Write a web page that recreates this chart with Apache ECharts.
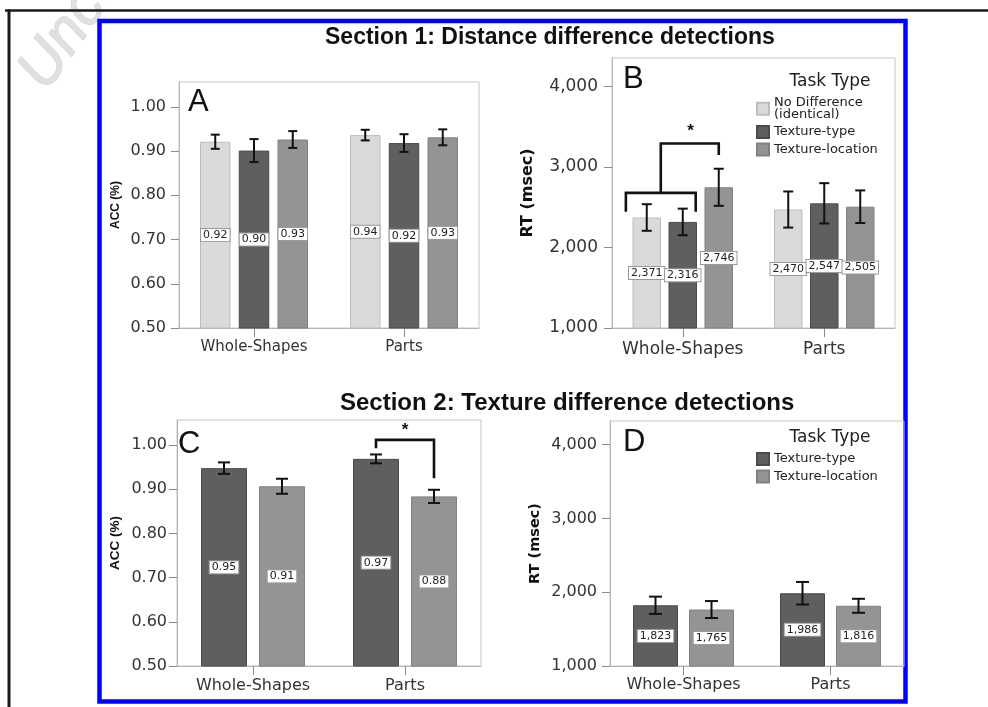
<!DOCTYPE html>
<html><head><meta charset="utf-8">
<script src="https://cdn.jsdelivr.net/npm/echarts@6/dist/echarts.min.js"></script>
<style>html,body{margin:0;padding:0;background:#fff}#c{width:988px;height:707px}</style>
</head><body><div id="c"></div>
<script>
// ---------- data ----------
const categories = ['Whole-Shapes', 'Parts'];
const nameNoDiff = 'No Difference\n(identical)';
const nameType = 'Texture-type';
const nameLoc = 'Texture-location';

// Panel A: ACC, distance difference detections
const accA_noDiff = [0.921, 0.936];
const accA_type   = [0.901, 0.918];
const accA_loc    = [0.926, 0.931];
const accA_noDiffErr = [0.016, 0.012];
const accA_typeErr   = [0.026, 0.020];
const accA_locErr    = [0.019, 0.018];

// Panel B: RT, distance difference detections
const rtB_noDiff = [2371, 2470];
const rtB_type   = [2316, 2547];
const rtB_loc    = [2746, 2505];
const rtB_noDiffErr = [165, 224];
const rtB_typeErr   = [165, 250];
const rtB_locErr    = [230, 202];

// Panel C: ACC, texture difference detections
const accC_type = [0.948, 0.969];
const accC_loc  = [0.907, 0.884];
const accC_typeErr = [0.013, 0.010];
const accC_locErr  = [0.017, 0.015];

// Panel D: RT, texture difference detections
const rtD_type = [1823, 1986];
const rtD_loc  = [1765, 1816];
const rtD_typeErr = [117, 153];
const rtD_locErr  = [115, 95];

const accTicks = [0.5, 0.6, 0.7, 0.8, 0.9, 1.0];
const rtTicks = [1000, 2000, 3000, 4000];

// significance brackets: [categoryIndex, barSlot, value]
const sigB = [
  [[0, -1.58, 2442], [0, -1.58, 2677], [0, 0.36, 2677], [0, 0.36, 2442]],
  [[0, -0.61, 2677], [0, -0.61, 3290], [0, 1, 3290], [0, 1, 3145]]
];
const sigBStar = [0, 0.22, 3446];
const sigC = [
  [[1, -0.5, 0.993], [1, -0.5, 1.012], [1, 0.5, 1.012], [1, 0.5, 0.925]]
];
const sigCStar = [1, 0, 1.034];

// ---------- styling ----------
const FONT = 'DejaVu Sans';
const COLORS = {
  [nameNoDiff]: ['#dadada', '#bdbdbd'],
  [nameType]: ['#5f5f5f', '#4b4b4b'],
  [nameLoc]: ['#949494', '#808080']
};
const fmtAcc = v => Number(v).toFixed(2);
const fmtRt = v => String(Math.round(v)).replace(/\B(?=(\d{3})+(?!\d))/g, ',');

const grids = [], xAxes = [], yAxes = [], series = [];

function makePanel(gi, cfg) {
  grids.push(Object.assign({show: true, borderColor: '#c6c6c6', borderWidth: 1, containLabel: false}, cfg.grid));
  xAxes.push({
    type: 'category', gridIndex: gi, data: categories,
    axisLine: {show: true, lineStyle: {color: '#b5b5b5'}},
    axisTick: {show: true, alignWithLabel: true, length: 9, lineStyle: {color: '#8a8a8a'}},
    axisLabel: {interval: 0, fontSize: cfg.catFont, color: '#333', margin: cfg.catMargin, fontFamily: FONT}
  });
  yAxes.push({
    type: 'value', gridIndex: gi, min: cfg.min, max: cfg.max, interval: cfg.ticks[1] - cfg.ticks[0],
    axisLine: {show: true, lineStyle: {color: '#b5b5b5'}},
    axisTick: {show: true, length: 8, lineStyle: {color: '#8a8a8a'}, customValues: cfg.ticks},
    axisLabel: {customValues: cfg.ticks, formatter: cfg.fmt, fontSize: cfg.tickFont, color: '#333', margin: cfg.tickMargin, fontFamily: FONT},
    splitLine: {show: false},
    name: cfg.yName, nameLocation: 'middle', nameGap: cfg.nameGap, nameRotate: 90,
    nameTextStyle: {fontWeight: 'bold', fontSize: cfg.nameFont, fontFamily: cfg.nameFamily, color: '#111'}
  });
  const n = cfg.bars.length;
  const step = cfg.bw + cfg.gap;
  cfg.bars.forEach((b, k) => {
    const c = COLORS[b.name];
    series.push({
      type: 'bar', name: b.name, xAxisIndex: gi, yAxisIndex: gi, data: b.values,
      barWidth: cfg.bw, barGap: (cfg.gap / cfg.bw * 100) + '%',
      itemStyle: {color: c[0], borderColor: c[1], borderWidth: 1},
      label: {show: true, position: 'inside', formatter: p => cfg.fmt(p.value),
        backgroundColor: '#fff', borderColor: '#9a9a9a', borderWidth: 1, padding: [1, 2, 0, 2],
        color: '#222', fontSize: 11, fontFamily: FONT},
      emphasis: {disabled: true}, z: 2
    });
    const slot = k - (n - 1) / 2;
    series.push({
      type: 'custom', xAxisIndex: gi, yAxisIndex: gi, silent: true, z: 5,
      encode: {x: 0, y: [1, 2]},
      data: b.values.map((v, i) => [i, v - b.err[i], v + b.err[i]]),
      renderItem(params, api) {
        const ci = api.value(0);
        const lo = api.coord([ci, api.value(1)]);
        const hi = api.coord([ci, api.value(2)]);
        const x = lo[0] + slot * step;
        const st = {stroke: '#111', lineWidth: 2};
        return {type: 'group', children: [
          {type: 'line', shape: {x1: x, y1: lo[1], x2: x, y2: hi[1]}, style: st},
          {type: 'line', shape: {x1: x - cfg.cap / 2, y1: lo[1], x2: x + cfg.cap / 2, y2: lo[1]}, style: st},
          {type: 'line', shape: {x1: x - cfg.cap / 2, y1: hi[1], x2: x + cfg.cap / 2, y2: hi[1]}, style: st}
        ]};
      }
    });
  });
  if (cfg.sig) {
    series.push({
      type: 'custom', xAxisIndex: gi, yAxisIndex: gi, silent: true, z: 6,
      data: [[0, cfg.min]],
      renderItem(params, api) {
        const toPt = p => { const c = api.coord([p[0], p[2]]); return [c[0] + p[1] * step, c[1]]; };
        const children = cfg.sig.map(line => ({
          type: 'polyline', shape: {points: line.map(toPt)},
          style: {stroke: '#111', lineWidth: 2.6, fill: null, lineJoin: 'miter'}
        }));
        const s = toPt(cfg.sigStar);
        children.push({type: 'text', x: s[0], y: s[1], style: {text: '*', font: 'bold 17px "Liberation Sans"', fill: '#111', align: 'center', verticalAlign: 'middle'}});
        return {type: 'group', children};
      }
    });
  }
}

makePanel(0, {
  grid: {left: 179, top: 82, width: 300, height: 246},
  min: 0.5, max: 1.056, ticks: accTicks, fmt: fmtAcc,
  tickFont: 16, tickMargin: 13, catFont: 15, catMargin: 12,
  yName: 'ACC (%)', nameGap: 57, nameFont: 12, nameFamily: 'Liberation Sans',
  bw: 30.5, gap: 8.25, cap: 9,
  bars: [
    {name: nameNoDiff, values: accA_noDiff, err: accA_noDiffErr},
    {name: nameType, values: accA_type, err: accA_typeErr},
    {name: nameLoc, values: accA_loc, err: accA_locErr}
  ]
});
makePanel(1, {
  grid: {left: 612, top: 58, width: 283, height: 270},
  min: 1000, max: 4350, ticks: rtTicks, fmt: fmtRt,
  tickFont: 17, tickMargin: 14, catFont: 17, catMargin: 13,
  yName: 'RT (msec)', nameGap: 76, nameFont: 16, nameFamily: FONT,
  bw: 28.5, gap: 7.5, cap: 10,
  bars: [
    {name: nameNoDiff, values: rtB_noDiff, err: rtB_noDiffErr},
    {name: nameType, values: rtB_type, err: rtB_typeErr},
    {name: nameLoc, values: rtB_loc, err: rtB_locErr}
  ],
  sig: sigB, sigStar: sigBStar
});
makePanel(2, {
  grid: {left: 177, top: 420, width: 304, height: 246},
  min: 0.5, max: 1.057, ticks: accTicks, fmt: fmtAcc,
  tickFont: 16, tickMargin: 10, catFont: 16, catMargin: 12,
  yName: 'ACC (%)', nameGap: 55, nameFont: 13.5, nameFamily: 'Liberation Sans',
  bw: 46, gap: 12, cap: 12,
  bars: [
    {name: nameType, values: accC_type, err: accC_typeErr},
    {name: nameLoc, values: accC_loc, err: accC_locErr}
  ],
  sig: sigC, sigStar: sigCStar
});
makePanel(3, {
  grid: {left: 610, top: 421, width: 294, height: 245},
  min: 1000, max: 4320, ticks: rtTicks, fmt: fmtRt,
  tickFont: 16, tickMargin: 13, catFont: 16, catMargin: 11,
  yName: 'RT (msec)', nameGap: 67, nameFont: 14.5, nameFamily: FONT,
  bw: 45, gap: 11, cap: 13,
  bars: [
    {name: nameType, values: rtD_type, err: rtD_typeErr},
    {name: nameLoc, values: rtD_loc, err: rtD_locErr}
  ]
});

const legendBase = {
  orient: 'vertical', left: 756, itemWidth: 12, itemHeight: 12, itemGap: 3.5, icon: 'rect',
  padding: 0, selectedMode: false,
  textStyle: {fontSize: 13, lineHeight: 12.5, color: '#222', fontFamily: FONT}
};

const txt = (text, x, y, font, align, fill) => ({
  type: 'text', x, y, z: 20,
  style: {text, font, fill: fill || '#111', align: align || 'left', verticalAlign: 'middle'}
});

const option = {
  backgroundColor: '#fff',
  animation: false,
  grid: grids, xAxis: xAxes, yAxis: yAxes, series,
  legend: [
    Object.assign({}, legendBase, {top: 96, data: [nameNoDiff, nameType, nameLoc]}),
    Object.assign({}, legendBase, {top: 452, data: [nameType, nameLoc]})
  ],
  graphic: [
    {type: 'text', x: 8, y: 66, rotation: 55 * Math.PI / 180, z: -2,
      style: {text: 'Uncorrected Proof', font: 'italic 60px "Liberation Sans"', fill: '#e0e0e0', stroke: '#cfcfcf', lineWidth: 1}},
    {type: 'rect', z: -1, shape: {x: 99.5, y: 21, width: 806, height: 680.5},
      style: {fill: '#fff', stroke: '#0000ff', lineWidth: 4.5}},
    {type: 'line', z: 20, shape: {x1: 5, y1: 10.5, x2: 988, y2: 10.5}, style: {stroke: '#1a1a1a', lineWidth: 2.5}},
    {type: 'line', z: 20, shape: {x1: 9, y1: 9.5, x2: 9, y2: 707}, style: {stroke: '#1a1a1a', lineWidth: 3}},
    txt('Section 1: Distance difference detections', 325, 38, 'bold 23px "Liberation Sans"'),
    txt('Section 2: Texture difference detections', 340, 403, 'bold 24px "Liberation Sans"'),
    txt('A', 188, 102, '31px "Liberation Sans"'),
    txt('B', 623, 79, '31px "Liberation Sans"'),
    txt('C', 178, 444, '31px "Liberation Sans"'),
    txt('D', 623, 442, '31px "Liberation Sans"'),
    txt('Task Type', 830, 82, '17px "DejaVu Sans"', 'center', '#222'),
    txt('Task Type', 830, 438, '17px "DejaVu Sans"', 'center', '#222')
  ]
};

const chart = echarts.init(document.getElementById('c'), null, {renderer: 'canvas'});
chart.setOption(option);
</script>
</body></html>
